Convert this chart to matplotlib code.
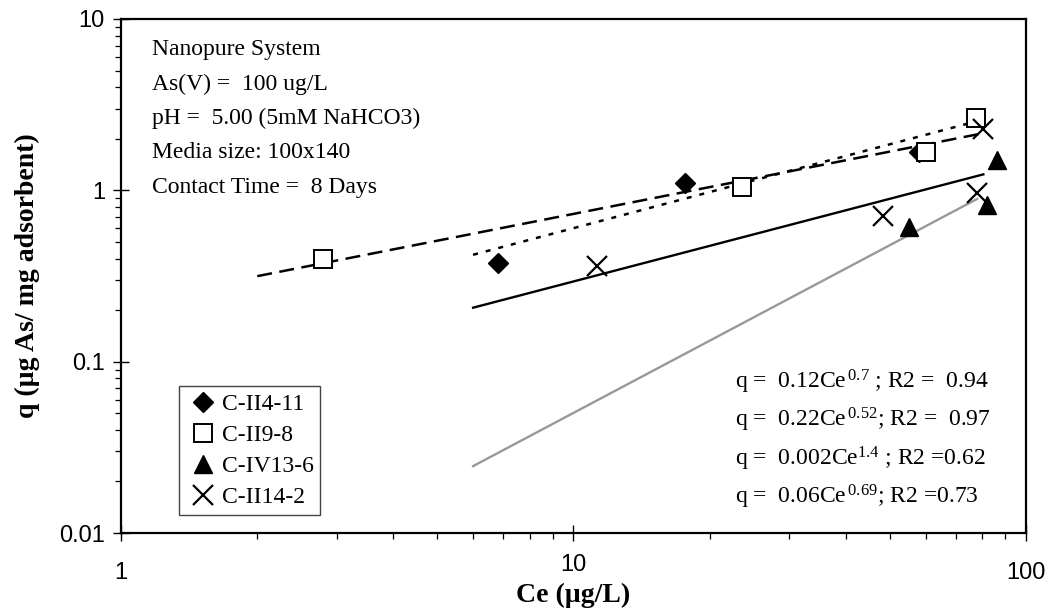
"""
Arsenic adsorption isotherms (Freundlich fits) for four media
"""

import matplotlib
matplotlib.use("Agg")
import matplotlib.pyplot as plt
import matplotlib.transforms as mtransforms
import numpy as np

diamond_ce = [6.8, 17.6, 58.0]
diamond_q = [0.378, 1.11, 1.67]

square_ce = [2.79, 23.6, 60.1, 77.5]
square_q = [0.399, 1.04, 1.67, 2.66]

triangle_ce = [55.2, 81.9, 86.1]
triangle_q = [0.614, 0.82, 1.50]

cross_ce = [11.25, 48.4, 78.0, 80.5]
cross_q = [0.362, 0.709, 0.962, 2.28]

series_names = ["C-II4-11", "C-II9-8", "C-IV13-6", "C-II14-2"]

# Power law trend lines q = a * Ce^b, and the Ce range each one covers
fit_coef = [0.12, 0.22, 0.002, 0.06]
fit_exp = [0.7, 0.52, 1.4, 0.69]
fit_start = [6, 2, 6, 6]
fit_end = [77, 80, 78, 80.5]

eq_labels = [r"q =  0.12Ce$^{\,\mathrm{0.7}}$ ; R2 =  0.94",
             r"q =  0.22Ce$^{\,\mathrm{0.52}}$; R2 =  0.97",
             r"q =  0.002Ce$^{\mathrm{1.4}}$ ; R2 =0.62",
             r"q =  0.06Ce$^{\,\mathrm{0.69}}$; R2 =0.73"]

conditions = ["Nanopure System",
              "As(V) =  100 ug/L",
              "pH =  5.00 (5mM NaHCO3)",
              "Media size: 100x140",
              "Contact Time =  8 Days"]

plt.rcParams["font.family"] = "Liberation Sans"
plt.rcParams["mathtext.fontset"] = "custom"
plt.rcParams["mathtext.rm"] = "Liberation Serif"
plt.rcParams["mathtext.it"] = "Liberation Serif:italic"
plt.rcParams["mathtext.bf"] = "Liberation Serif:bold"

serif = "Liberation Serif"

fig = plt.figure(figsize=(10.55, 6.10), dpi=100)
ax = fig.add_axes([0.1147, 0.1262, 0.8578, 0.8427])

# Trend lines
line_styles = [dict(color="black", linestyle=(0, (2, 3.2)), linewidth=1.8),
               dict(color="black", linestyle=(0, (6, 3)), linewidth=1.8),
               dict(color="#999999", linestyle="-", linewidth=1.7),
               dict(color="black", linestyle="-", linewidth=1.7)]
for a, b, x0, x1, style in zip(fit_coef, fit_exp, fit_start, fit_end, line_styles):
    ce = np.array([x0, x1], dtype=float)
    ax.plot(ce, a * ce ** b, zorder=2, **style)

# Data points
ax.plot(diamond_ce, diamond_q, linestyle="none", marker="D", markersize=10,
        color="black", zorder=3, label=series_names[0])
ax.plot(square_ce, square_q, linestyle="none", marker="s", markersize=12.5,
        markerfacecolor="white", markeredgecolor="black", markeredgewidth=1.4,
        zorder=4, label=series_names[1])
ax.plot(triangle_ce, triangle_q, linestyle="none", marker="^", markersize=13.5,
        color="black", zorder=4, label=series_names[2])
ax.plot(cross_ce, cross_q, linestyle="none", marker="x", markersize=14,
        markeredgewidth=1.6, color="black", zorder=5, label=series_names[3])

ax.set_xscale("log")
ax.set_yscale("log")
ax.set_xlim(1, 100)
ax.set_ylim(0.01, 10)
ax.set_xticks([1, 10, 100])
ax.set_xticklabels(["1", "10", "100"])
ax.set_yticks([0.01, 0.1, 1, 10])
ax.set_yticklabels(["0.01", "0.1", "1", "10"])

ax.tick_params(axis="both", which="major", direction="inout", length=11.5,
               width=1.0, labelsize=17)
ax.tick_params(axis="x", which="major", pad=15)
ax.tick_params(axis="y", which="major", pad=5.8)
ax.tick_params(axis="both", which="minor", direction="out", length=4, width=0.9)

# the middle x label sits a little higher in the original
lbl = ax.get_xticklabels()[1]
lbl.set_transform(lbl.get_transform() +
                  mtransforms.ScaledTranslation(0, 6 / 72, fig.dpi_scale_trans))

for spine in ax.spines.values():
    spine.set_linewidth(1.6)

ax.set_xlabel("Ce (\u00b5g/L)", family=serif, fontweight="bold", fontsize=20,
              labelpad=-1)
ax.set_ylabel("q (\u00b5g As/ mg adsorbent)", family=serif, fontweight="bold",
              fontsize=20, labelpad=14)

# Experimental conditions, top left
for i, line in enumerate(conditions):
    ax.text(0.0343, 0.9397 - 0.0667 * i, line, transform=ax.transAxes,
            family=serif, fontsize=17, va="center", ha="left")

# Fit equations, bottom right
eq_y = [0.294, 0.220, 0.144, 0.070]
for y, label in zip(eq_y, eq_labels):
    ax.text(0.678, y, label, transform=ax.transAxes, family=serif,
            fontsize=17, va="center", ha="left")

leg = ax.legend(loc="lower left", bbox_to_anchor=(0.0641, 0.035),
                borderaxespad=0, prop={"family": serif, "size": 17},
                handlelength=1.4, handletextpad=0.1, borderpad=0.3,
                labelspacing=0.4, fancybox=False, framealpha=1)
leg.get_frame().set_edgecolor("#444444")
leg.get_frame().set_linewidth(1.0)

fig.savefig("out.png", dpi=100)
